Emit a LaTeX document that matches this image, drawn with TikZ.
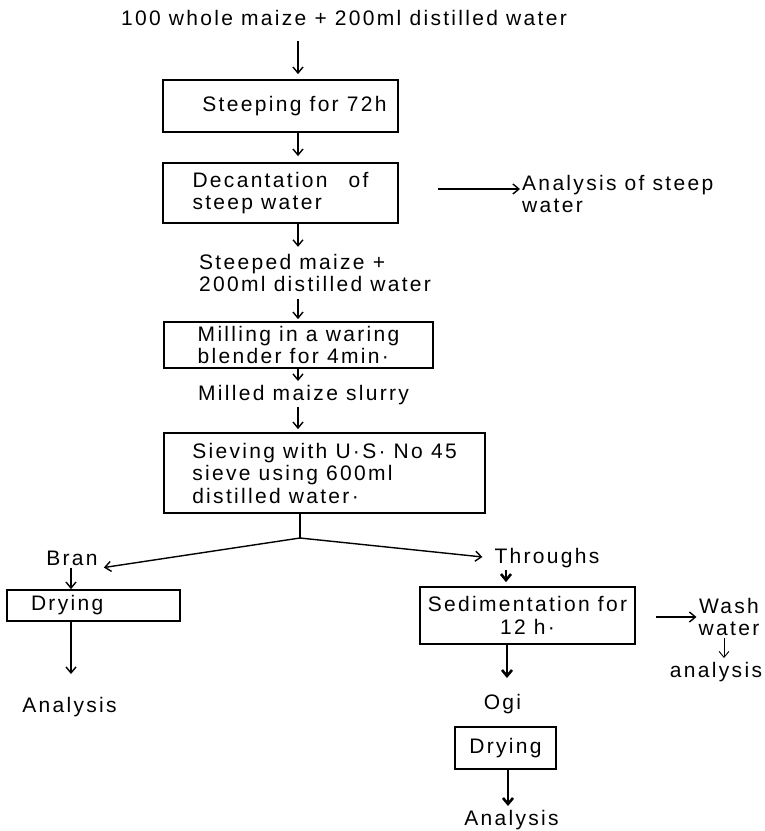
\documentclass[tikz,border=0pt]{standalone}
\usepackage{fontspec}
\setmainfont{Liberation Sans}[LetterSpace=11]
\usetikzlibrary{arrows.meta}
\begin{document}
\begin{tikzpicture}[%
x=1pt, y=-1pt,
font=\fontsize{21}{22.5}\selectfont,
boks/.style={draw, line width=1.8pt, align=left, inner sep=0pt},
tekst/.style={inner sep=2pt, align=left},
pil/.style={-{Straight Barb[length=6pt,width=10pt]}, line width=1.4pt},
tykkpil/.style={pil, line width=2.6pt},
linje/.style={line width=1.4pt}]
\useasboundingbox (0,0) rectangle (765,831);
\coordinate (akse) at (298,0);
\coordinate (split) at (300,538);
\node [tekst] (start) at (344,18) {100 whole maize + 200ml distilled water};
\node [boks, minimum width=235pt, minimum height=52pt] (steep) at (280.5,106) {\hspace*{28pt}Steeping for 72h};
\node [boks, minimum width=235pt, minimum height=60pt] (decant) at (280.5,193) {Decantation\quad of\\steep water};
\node [tekst, anchor=west] (steepan) at (520,194) {Analysis of steep\\water};
\node [tekst, anchor=west] (mix) at (197,273) {Steeped maize +\\200ml distilled water};
\node [boks, minimum width=269pt, minimum height=46pt] (mill) at (298.5,345) {Milling in a waring\\blender for 4min·};
\node [tekst, anchor=west] (slurry) at (196,395) {Milled maize slurry};
\node [boks, minimum width=321pt, minimum height=80pt] (sieve) at (324.5,473) {Sieving with U·S· No 45\\sieve using 600ml\\distilled water·};
\node [tekst] (bran) at (72,558) {Bran};
\node [boks, minimum width=173pt, minimum height=31pt, inner xsep=24pt, text width=125pt] (drybran) at (93.5,605.5) {Drying};
\node [tekst] (brananalysis) at (69.5,707) {Analysis};
\node [tekst] (throughs) at (547,558) {Throughs};
\node [boks, align=center, minimum width=215pt, minimum height=57pt] (sed) at (527.5,615.5) {Sedimentation for\\12 h·};
\node [tekst, align=center] (wash) at (729,617) {Wash\\water};
\node [tekst] (washan) at (716,672) {analysis};
\node [tekst] (ogi) at (502.5,704) {Ogi};
\node [boks, minimum width=101pt, minimum height=42pt] (dryogi) at (505.5,748) {Drying};
\node [tekst] (ogianalysis) at (511.5,820) {Analysis};
\draw [pil, shorten <=13pt, shorten >=5pt] (start.south -| akse) -- (steep.north -| akse);
\draw [pil, shorten >=6pt] (steep.south -| akse) -- (decant.north -| akse);
\draw [pil, shorten <=39pt] ([yshift=4pt]decant.east) -- ([yshift=4pt]decant.east -| steepan.west);
\draw [pil, shorten >=5pt] (decant.south -| akse) -- (mix.north -| akse);
\draw [pil, shorten <=5pt, shorten >=2pt] (mix.south -| akse) -- (mill.north -| akse);
\draw [pil, shorten >=2pt] (mill.south -| akse) -- (slurry.north -| akse);
\draw [pil, shorten >=3pt] (slurry.south -| akse) -- (sieve.north -| akse);
\draw [linje] (sieve.south -| split) -- (split);
\draw [pil] (split) -- ([xshift=4pt]bran.south east);
\draw [pil, shorten >=10pt] (split) -- (throughs.west);
\draw [pil] (bran.south -| 71,0) -- (drybran.north -| 71,0);
\draw [pil, shorten >=21pt] (drybran.south -| 71,0) -- (brananalysis.north -| 71,0);
\draw [tykkpil, shorten >=4pt] (throughs.south -| 506,0) -- (sed.north -| 506,0);
\draw [pil, shorten <=20pt] (sed.east |- wash.west) -- (wash.west);
\draw [pil, line width=0.9pt, shorten >=2pt] (wash.south -| 724,0) -- (washan.north -| 724,0);
\draw [tykkpil, shorten >=14pt] (sed.south -| 507,0) -- (ogi.north -| 507,0);
\draw [tykkpil, shorten >=2pt] (dryogi.south -| 508,0) -- (ogianalysis.north -| 508,0);
\end{tikzpicture}
\end{document}
